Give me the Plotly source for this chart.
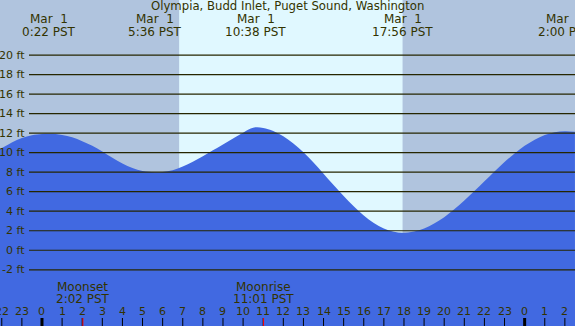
import plotly.graph_objects as go

# ---- data (hours relative to Mar 1 00:00 PST, heights in ft) ----
tide_hours = [-2.09, -1.5, -1.0, -0.5, 0.0, 0.37, 1.0, 1.5, 2.0, 2.5, 3.0, 3.5, 4.0, 4.5, 5.0,
              5.6, 6.0, 6.5, 7.0, 7.5, 8.0, 8.5, 9.0, 9.5, 10.0, 10.3, 10.63, 11.0, 11.5, 12.0,
              12.5, 13.0, 13.5, 14.0, 14.5, 15.0, 15.5, 16.0, 16.5, 17.0, 17.5, 17.93,
              18.5, 19.0, 19.5, 20.0, 20.5, 21.0, 21.5, 22.0, 22.5, 23.0, 23.5, 24.0,
              24.5, 25.0, 25.5, 26.0, 26.5]
tide_feet = [10.36, 11.05, 11.5, 11.78, 11.9, 11.93, 11.82, 11.58, 11.18, 10.7, 10.12, 9.48,
             8.9, 8.43, 8.12, 8.0, 8.03, 8.2, 8.58, 9.08, 9.64, 10.24, 10.84, 11.45, 12.05,
             12.4, 12.6, 12.53, 12.23, 11.69, 10.95, 10.04, 8.99, 7.85, 6.69, 5.56, 4.5, 3.56,
             2.8, 2.23, 1.9, 1.8, 1.93, 2.24, 2.74, 3.39, 4.19, 5.09, 6.06, 7.06, 8.07,
             9.04, 9.91, 10.7, 11.33, 11.81, 12.1, 12.2, 12.15]

sunrise_hour = 6.82
sunset_hour = 17.93

event_hours = [0.367, 5.6, 10.633, 17.933, 26.0]
event_dates = ["Mar\u00a0\u00a01", "Mar\u00a0\u00a01", "Mar\u00a0\u00a01", "Mar\u00a0\u00a01", "Mar\u00a0\u00a02"]
event_times = ["0:22 PST", "5:36 PST", "10:38 PST", "17:56 PST", "2:00 PST"]

moon_hours = [2.033, 11.017, 26.93]
moon_names = ["Moonset", "Moonrise", "Moonset"]
moon_times = ["2:02 PST", "11:01 PST", "2:56 PST"]

hour_ticks = list(range(-2, 27))
hour_labels = [str(h % 24) for h in hour_ticks]
midnight_hours = [0, 24]

grid_feet = list(range(-2, 21, 2))
grid_labels = [f"{v} ft" for v in grid_feet]

title = "Olympia, Budd Inlet, Puget Sound, Washington"

X_RANGE = [-2.088, 26.504]
Y_RANGE = [-7.76, 25.64]

# ---- styling ----
W, H = 575, 326
NIGHT = "#b0c4de"
DAY = "#e0f8ff"
WATER = "#4169e1"
INK = "#333300"
LINE = "#262600"
FONT = "DejaVu Sans"
BIG = 12
SMALL = 11

def py(px):
    return 1 - px / H

fig = go.Figure()

# baseline for fill
fig.add_trace(go.Scatter(x=[X_RANGE[0], X_RANGE[1]], y=[Y_RANGE[0], Y_RANGE[0]],
                         mode="lines", line=dict(width=0), hoverinfo="skip", showlegend=False))
fig.add_trace(go.Scatter(x=tide_hours, y=tide_feet, mode="lines",
                         line=dict(width=0, shape="spline", smoothing=1.0, color=WATER),
                         fill="tonexty", fillcolor=WATER, hoverinfo="skip", showlegend=False))

shapes = []
shapes.append(dict(type="rect", xref="paper", yref="paper", x0=0, x1=1, y0=0, y1=1,
                   fillcolor=NIGHT, line=dict(width=0), layer="below"))
shapes.append(dict(type="rect", xref="x", yref="paper", x0=sunrise_hour, x1=sunset_hour, y0=0, y1=1,
                   fillcolor=DAY, line=dict(width=0), layer="below"))
for v in grid_feet:
    shapes.append(dict(type="line", xref="paper", yref="y", x0=29 / W, x1=1, y0=v, y1=v,
                       line=dict(color=LINE, width=1.2), layer="above"))
for h in hour_ticks:
    wdt = 3 if h in midnight_hours else 1
    shapes.append(dict(type="line", xref="x", yref="paper", x0=h, x1=h, y0=0, y1=8 / H,
                       line=dict(color="#000000", width=wdt), layer="above"))
for h in moon_hours:
    shapes.append(dict(type="line", xref="x", yref="paper", x0=h, x1=h, y0=0, y1=8 / H,
                       line=dict(color="#ff0000", width=1), layer="above"))

annotations = []
def ann(text, x, y, xref="x", yref="paper", size=BIG, xanchor="center"):
    annotations.append(dict(text=text, xref=xref, yref=yref, x=x, y=y, xanchor=xanchor,
                            yanchor="middle", showarrow=False,
                            font=dict(family=FONT, size=size, color=INK)))

ann(title, 287 / W, py(6.5), xref="paper", size=11.7)
for h, d, t in zip(event_hours, event_dates, event_times):
    ann(d, h, py(19))
    ann(t, h, py(32))
for v, lab in zip(grid_feet, grid_labels):
    ann(lab, 27 / W, v, xref="paper", yref="y", size=SMALL, xanchor="right")
for h, n, t in zip(moon_hours, moon_names, moon_times):
    ann(n, h, py(286.5))
    ann(t, h, py(299))
for h, lab in zip(hour_ticks, hour_labels):
    ann(lab, h, py(311), size=SMALL)

fig.update_layout(
    width=W, height=H, autosize=False,
    margin=dict(l=0, r=0, t=0, b=0, pad=0),
    paper_bgcolor=NIGHT, plot_bgcolor=NIGHT,
    xaxis=dict(range=X_RANGE, visible=False, fixedrange=True),
    yaxis=dict(range=Y_RANGE, visible=False, fixedrange=True),
    shapes=shapes, annotations=annotations, showlegend=False,
)

fig.write_html("out.html", config={"displayModeBar": False},
               post_script="document.body.style.margin='0';document.body.style.overflow='hidden';")
